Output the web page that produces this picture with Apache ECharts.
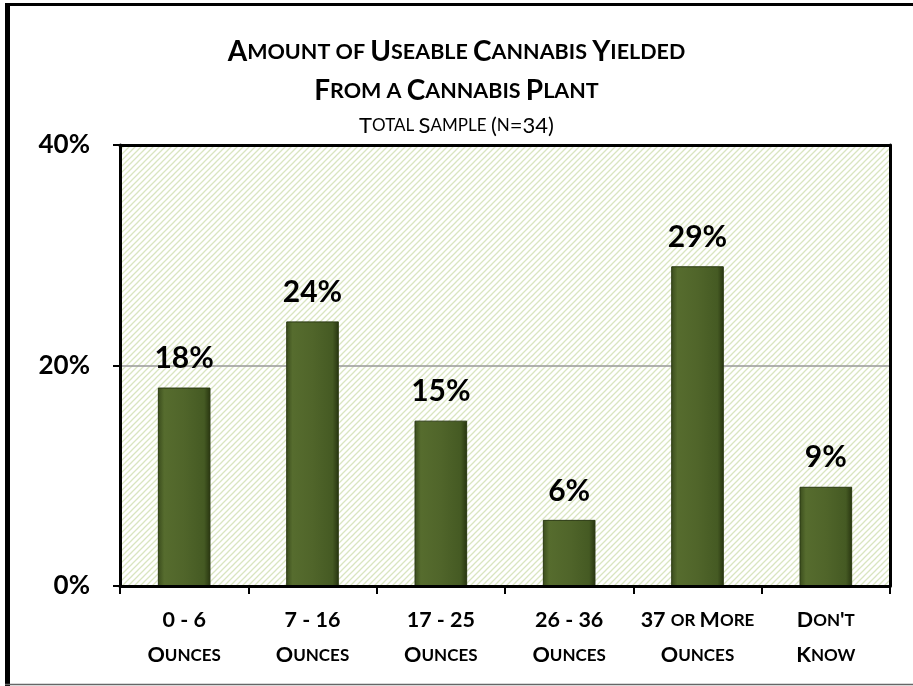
<!DOCTYPE html>
<html>
<head>
<meta charset="utf-8">
<script src="https://cdn.jsdelivr.net/npm/echarts@6/dist/echarts.min.js"></script>
<style>
  html, body { margin: 0; padding: 0; background: #fff; overflow: hidden; }
  #main { width: 913px; height: 686px; }
</style>
</head>
<body>
<div id="main"></div>
<script>
var categories = ['0 - 6\nOunces', '7 - 16\nOunces', '17 - 25\nOunces', '26 - 36\nOunces', '37 or More\nOunces', "Don't\nKnow"];
var values = [18, 24, 15, 6, 29, 9];
var yTicks = [0, 20, 40];

// small caps: capitals stay big, lowercase turns into smaller capitals
function smallCaps(text, big, small) {
    return text.split('\n').map(function (line) {
        var out = '', cur = null, buf = '';
        for (var i = 0; i < line.length; i++) {
            var c = line[i];
            var st = (c >= 'a' && c <= 'z') ? small : big;
            if (c === ' ' && cur) st = cur;
            if (st !== cur && buf) { out += '{' + cur + '|' + buf + '}'; buf = ''; }
            cur = st;
            buf += c.toUpperCase();
        }
        if (buf) out += '{' + cur + '|' + buf + '}';
        return out;
    }).join('\n');
}

// hatch pattern for the plot area
var pat = document.createElement('canvas');
pat.width = 6; pat.height = 6;
var pc = pat.getContext('2d');
pc.fillStyle = '#fff';
pc.fillRect(0, 0, 6, 6);
pc.strokeStyle = '#d9e5c0';
pc.lineWidth = 1.3;
pc.beginPath();
pc.moveTo(-1, 7); pc.lineTo(7, -1);
pc.moveTo(-1, 1); pc.lineTo(1, -1);
pc.moveTo(5, 7); pc.lineTo(7, 5);
pc.stroke();

var font = 'Lato';
var myChart = echarts.init(document.getElementById('main'));

function titleRich(bs, ss, weight) {
    return {
        b: { fontFamily: font, fontWeight: weight, fontSize: bs, color: '#000' },
        s: { fontFamily: font, fontWeight: weight, fontSize: ss, color: '#000' }
    };
}

var option = {
    backgroundColor: '#fff',
    animation: false,
    textStyle: { fontFamily: font },
    title: [
        {
            text: smallCaps('Amount of Useable Cannabis Yielded', 'b', 's'),
            left: 'center', top: 33,
            textStyle: { fontWeight: 'bold', rich: titleRich(28, 21.5, 'bold') }
        },
        {
            text: smallCaps('From a Cannabis Plant', 'b', 's'),
            left: 'center', top: 72,
            textStyle: { fontWeight: 'bold', rich: titleRich(28, 21.5, 'bold') }
        },
        {
            text: smallCaps('Total Sample (n=34)', 'b', 's'),
            left: 'center', top: 110,
            textStyle: { fontWeight: 'normal', rich: titleRich(22, 17, 'normal') }
        }
    ],
    graphic: [
        { type: 'line', shape: { x1: 5, y1: 4.5, x2: 913, y2: 4.5 }, style: { stroke: '#000', lineWidth: 3 }, silent: true },
        { type: 'line', shape: { x1: 7.5, y1: 3, x2: 7.5, y2: 686 }, style: { stroke: '#000', lineWidth: 5 }, silent: true },
        { type: 'line', shape: { x1: 5, y1: 684.5, x2: 913, y2: 684.5 }, style: { stroke: '#666', lineWidth: 1.5 }, silent: true }
    ],
    grid: {
        left: 120, right: 23, top: 145, bottom: 100,
        show: true,
        backgroundColor: { image: pat, repeat: 'repeat' },
        borderWidth: 0
    },
    xAxis: [{
        type: 'category',
        data: categories,
        z: 5,
        axisLine: { lineStyle: { color: '#000', width: 3 } },
        axisTick: { show: true, length: 8, lineStyle: { color: '#000', width: 2 } },
        axisLabel: {
            interval: 0,
            margin: 17,
            lineHeight: 35,
            formatter: function (v) { return smallCaps(v, 'b', 's'); },
            rich: {
                b: { fontFamily: font, fontWeight: 'bold', fontSize: 21.5, color: '#000', lineHeight: 35 },
                s: { fontFamily: font, fontWeight: 'bold', fontSize: 17, color: '#000', lineHeight: 35 }
            }
        }
    }, {
        type: 'category',
        data: categories,
        position: 'top',
        z: 5,
        axisLine: { show: true, onZero: false, lineStyle: { color: '#000', width: 3 } },
        axisTick: { show: false },
        axisLabel: { show: false }
    }],
    yAxis: [{
        type: 'value',
        min: yTicks[0], max: yTicks[yTicks.length - 1], interval: 20,
        axisLine: { show: true, lineStyle: { color: '#000', width: 3 } },
        axisTick: { show: true, length: 7, lineStyle: { color: '#000', width: 2 } },
        splitLine: { show: true, lineStyle: { color: '#999', width: 1.5 } },
        axisLabel: {
            margin: 30,
            formatter: '{value}%',
            fontFamily: font, fontWeight: 'bold', fontSize: 26, color: '#000'
        }
    }, {
        type: 'value',
        position: 'right',
        z: 5,
        min: yTicks[0], max: yTicks[yTicks.length - 1], interval: 20,
        axisLine: { show: true, onZero: false, lineStyle: { color: '#000', width: 3 } },
        axisTick: { show: false },
        splitLine: { show: false },
        axisLabel: { show: false }
    }],
    series: [{
        type: 'bar',
        data: values,
        barWidth: '41%',
        itemStyle: {
            color: new echarts.graphic.LinearGradient(0, 0, 1, 0, [
                { offset: 0, color: '#3a4c1c' },
                { offset: 0.12, color: '#566c2e' },
                { offset: 0.5, color: '#50652a' },
                { offset: 0.88, color: '#455a23' },
                { offset: 1, color: '#283510' }
            ]),
            borderColor: '#2a3812',
            borderWidth: 1
        },
        label: {
            show: true,
            position: 'top',
            distance: 14,
            formatter: '{c}%',
            fontFamily: font, fontWeight: 'bold', fontSize: 30, color: '#000'
        }
    }]
};

myChart.setOption(option);
</script>
</body>
</html>
